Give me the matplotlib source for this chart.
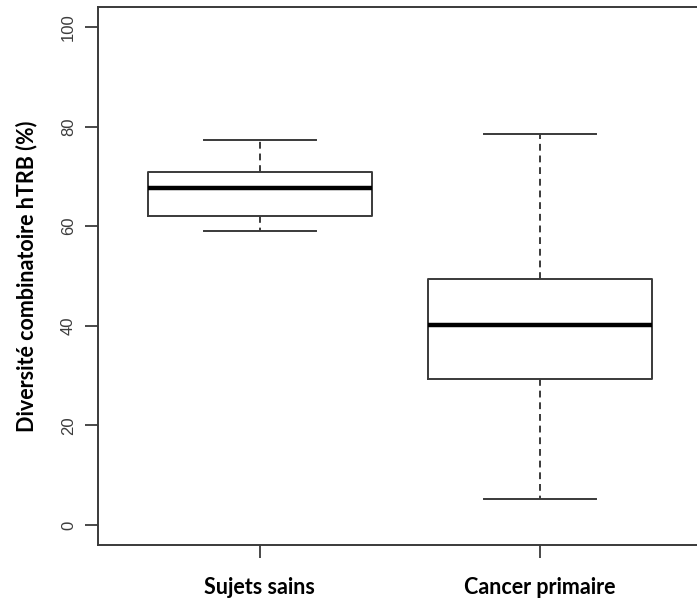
import matplotlib
matplotlib.use("Agg")
import matplotlib.pyplot as plt

# values
groups = ["Sujets sains", "Cancer primaire"]
whisker_low = [59.1, 5.2]
q1 = [62.0, 29.3]
medians = [67.7, 40.2]
q3 = [70.8, 49.3]
whisker_high = [77.3, 78.5]
y_ticks = [0, 20, 40, 60, 80, 100]

stats = []
for i, name in enumerate(groups):
    stats.append({"label": name, "whislo": whisker_low[i], "q1": q1[i],
                  "med": medians[i], "q3": q3[i], "whishi": whisker_high[i],
                  "fliers": []})

fig = plt.figure(figsize=(6.97, 6.01), dpi=100)
ax = fig.add_axes([0.1399, 0.0932, 0.8673, 0.8952])

line_col = "#3a3a3a"
ax.bxp(stats, positions=[1, 2], widths=0.8, capwidths=0.4,
       boxprops=dict(color=line_col, linewidth=1.4),
       medianprops=dict(color="black", linewidth=3.2, solid_capstyle="butt"),
       whiskerprops=dict(color=line_col, linewidth=1.4, linestyle=(0, (3.5, 2.5))),
       capprops=dict(color=line_col, linewidth=1.4))

ax.set_xlim(0.42, 2.58)
ax.set_ylim(-4, 104)
ax.set_yticks(y_ticks)
ax.set_yticklabels([str(v) for v in y_ticks], rotation=90, va="center",
                   fontsize=12, color="#3c3c3c", family="Liberation Sans")
ax.set_xticks([1, 2])
ax.set_xticklabels(groups, fontsize=15.5, fontweight="bold", family="Lato")
ax.tick_params(axis="y", length=9.5, width=1.3, color=line_col, pad=6)
ax.tick_params(axis="x", length=9, width=1.3, color=line_col, pad=14)
for s in ax.spines.values():
    s.set_color(line_col)
    s.set_linewidth(1.4)

ax.set_ylabel("Diversité combinatoire hTRB (%)", fontsize=15.5, fontweight="bold",
              family="Lato")
ax.yaxis.set_label_coords(-0.1, 0.5)

fig.savefig("out.png", dpi=100)
